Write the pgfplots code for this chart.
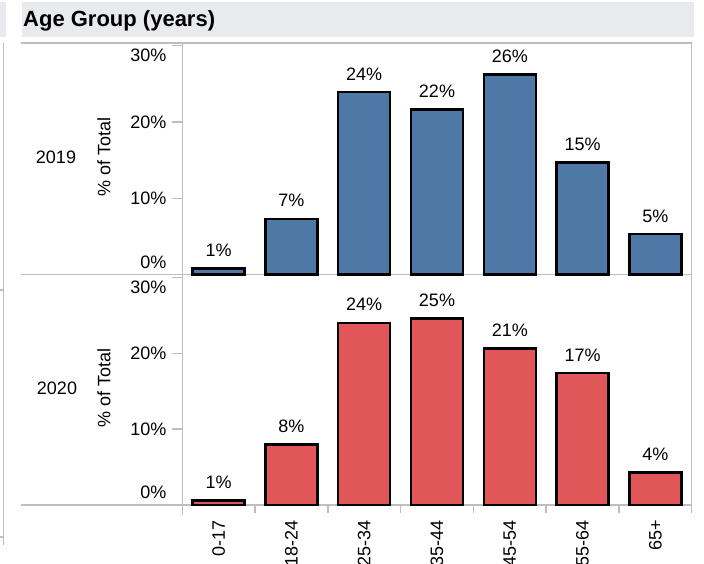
\documentclass[border=0pt]{standalone}
\usepackage{fontspec}
\setmainfont{Liberation Sans}
\usepackage{pgfplots}
\usepackage{pgfplotstable}
\pgfplotsset{compat=1.18}
\definecolor{barblue}{HTML}{4E79A7}
\definecolor{barred}{HTML}{E15759}
\definecolor{linegray}{HTML}{BEBEBE}
\definecolor{headgray}{HTML}{E9EAEE}

\pgfplotstableread{
x y
0 0.8
1 7.3
2 23.9
3 21.6
4 26.2
5 14.7
6 5.3
}\dataA
\pgfplotstableread{
x y
0 0.6
1 8.0
2 24.0
3 24.6
4 20.6
5 17.4
6 4.3
}\dataB

\newcommand\lbl{\fontsize{18bp}{21bp}\selectfont}

\pgfplotsset{panel/.style={
  scale only axis, width=509.4bp, anchor=south west,
  xmin=-0.5, xmax=6.5, ymin=0,
  axis line style={draw=none},
  ybar, bar width=52bp, clip=false,
  ytick={0,10,20,30},
  xtick pos=bottom, ytick pos=left,
  tick align=outside,
  major tick length=10bp,
  minor tick length=8bp,
  tick style={draw=linegray, line width=1.4bp},
  every major x tick/.append style={draw=none},
  xtick={0,...,6},
  yticklabel style={font=\lbl, inner sep=0pt, xshift=-5.6bp},
  /pgf/number format/assume math mode=true,
  nodes near coords={\pgfmathprintnumber[fixed,precision=0,assume math mode=true]{\pgfplotspointmeta}\%},
  nodes near coords style={font=\lbl, inner sep=0pt, yshift=10.5bp, text=black},
  every axis plot/.append style={draw=black, line width=2.5bp},
}}

\begin{document}
\begin{tikzpicture}
\useasboundingbox (0,0) rectangle (704bp,-564bp);
% header
\fill[headgray] (22bp,-2bp) rectangle (694bp,-37bp);
\fill[headgray] (0bp,-2bp) rectangle (6bp,-37bp);
\node[anchor=base west, inner sep=0pt, font=\bfseries\fontsize{22bp}{26bp}\selectfont] at (23bp,-26bp) {Age Group (years)};
% frame lines
\draw[linegray, line width=1.4bp] (21bp,-43bp) -- (691.7bp,-43bp);
\draw[linegray, line width=1.4bp] (21bp,-274.5bp) -- (691.7bp,-274.5bp);
\draw[linegray, line width=1.4bp] (21bp,-505bp) -- (691.7bp,-505bp);
\draw[linegray, line width=1.4bp] (691.7bp,-43bp) -- (691.7bp,-513bp);
\draw[linegray, line width=1.4bp] (182.3bp,-43bp) -- (182.3bp,-515bp);
\draw[linegray, line width=1.4bp] (3.3bp,-43bp) -- (3.3bp,-545bp);
\draw[linegray, line width=1.4bp] (0bp,-290bp) -- (3.3bp,-290bp);
\draw[linegray, line width=1.4bp] (0bp,-537bp) -- (3.3bp,-537bp);
% row labels
\node[font=\lbl] at (56bp,-157bp) {2019};
\node[font=\lbl, rotate=90] at (104bp,-157bp) {\% of Total};
\node[font=\lbl] at (57bp,-388bp) {2020};
\node[font=\lbl, rotate=90] at (104bp,-388bp) {\% of Total};

\begin{axis}[panel, at={(182.3bp,-274.5bp)}, height=231.5bp, ymax=30.35,
  xticklabels={},
  yticklabels={\smash{\raisebox{6.5bp}{0\%}}, 10\%, 20\%, \smash{\raisebox{-15.8bp}{30\%}}}]
\addplot[fill=barblue] table[x=x, y=y] {\dataA};
\end{axis}

\begin{axis}[panel, at={(182.3bp,-505bp)}, height=230.5bp, ymax=30.37,
  minor xtick={-0.5,0.5,...,6.5},
  xticklabels={0-17,18-24,25-34,35-44,45-54,55-64,65+},
  xticklabel shift=5bp,
  xticklabel style={font=\lbl, rotate=90, anchor=east, inner sep=0pt},
  yticklabels={\smash{\raisebox{6.5bp}{0\%}}, 10\%, 20\%, \smash{\raisebox{-16.2bp}{30\%}}}]
\addplot[fill=barred] table[x=x, y=y] {\dataB};
\end{axis}
\end{tikzpicture}
\end{document}
